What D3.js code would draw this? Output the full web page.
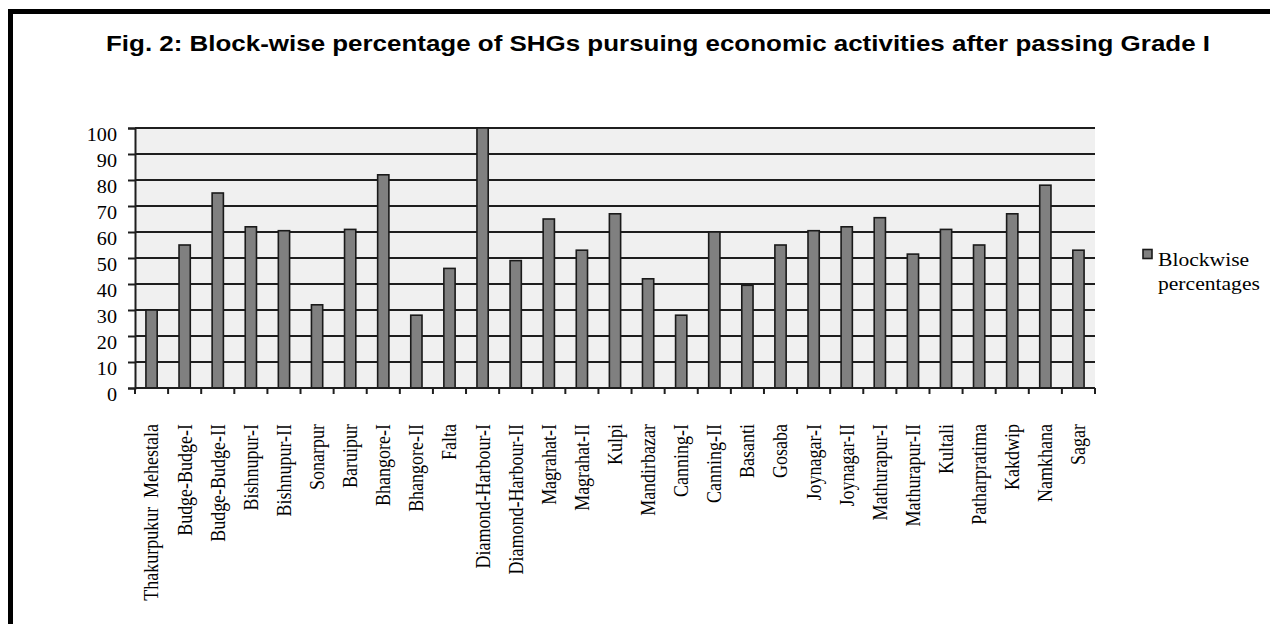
<!DOCTYPE html>
<html>
<head>
<meta charset="utf-8">
<script src="https://cdn.jsdelivr.net/npm/d3@7"></script>
<style>
  html, body { margin: 0; padding: 0; background: #fff; }
  svg { display: block; }
</style>
</head>
<body>
<svg id="chart" width="1270" height="624"></svg>
<script>
const categories = [
  "Thakurpukur  Mehestala", "Budge-Budge-I", "Budge-Budge-II", "Bishnupur-I", "Bishnupur-II",
  "Sonarpur", "Baruipur", "Bhangore-I", "Bhangore-II", "Falta",
  "Diamond-Harbour-I", "Diamond-Harbour-II", "Magrahat-I", "Magrahat-II", "Kulpi",
  "Mandirbazar", "Canning-I", "Canning-II", "Basanti", "Gosaba",
  "Joynagar-I", "Joynagar-II", "Mathurapur-I", "Mathurapur-II", "Kultali",
  "Patharpratima", "Kakdwip", "Namkhana", "Sagar"
];
const values = [
  30, 55, 75, 62, 60.5,
  32, 61, 82, 28, 46,
  100, 49, 65, 53, 67,
  42, 28, 60, 39.5, 55,
  60.5, 62, 65.5, 51.5, 61,
  55, 67, 78, 53
];
const yTicks = [0, 10, 20, 30, 40, 50, 60, 70, 80, 90, 100];
const seriesName = ["Blockwise", "percentages"];
const titleText = "Fig. 2: Block-wise percentage of SHGs pursuing economic activities after passing Grade I";

const svg = d3.select("#chart");
const L = 135, R = 1095, T = 128, B = 388;
const serif = "'Liberation Serif', 'Times New Roman', serif";

// outer frame (top and left edges)
svg.append("path")
  .attr("d", `M10.5,1000 L10.5,11.5 L1275,11.5`)
  .attr("fill", "none").attr("stroke", "#000").attr("stroke-width", 5);

// title
svg.append("text")
  .attr("x", 106).attr("y", 51)
  .attr("font-family", "'Liberation Sans', Arial, sans-serif")
  .attr("font-weight", "bold").attr("font-size", 22)
  .attr("textLength", 1104).attr("lengthAdjust", "spacingAndGlyphs")
  .attr("fill", "#000")
  .text(titleText);

const y = d3.scaleLinear().domain([0, 100]).range([B, T]);
const xCell = d3.scaleBand().domain(categories).range([L, R]).padding(0);
const xBar = d3.scaleBand().domain(categories).range([L, R]).paddingInner(0.66).paddingOuter(0.33);

// plot background
svg.append("rect").attr("x", L).attr("y", T).attr("width", R - L).attr("height", B - T)
  .attr("fill", "#f0f0f0");

// gridlines
svg.append("g").selectAll("line").data(yTicks.filter(d => d > 0)).join("line")
  .attr("x1", L).attr("x2", R).attr("y1", d => y(d)).attr("y2", d => y(d))
  .attr("stroke", "#1e1e1e").attr("stroke-width", 2);

// bars
svg.append("g").selectAll("rect").data(values).join("rect")
  .attr("x", (d, i) => xBar(categories[i]))
  .attr("y", d => y(d))
  .attr("width", xBar.bandwidth())
  .attr("height", d => B - y(d))
  .attr("fill", "#808080")
  .attr("stroke", "#1a1a1a").attr("stroke-width", 1.6);

// y axis
const yAxis = svg.append("g").attr("transform", `translate(${L},0)`)
  .call(d3.axisLeft(y).tickValues(yTicks).tickSize(7).tickPadding(11));
yAxis.select(".domain").attr("stroke", "#1e1e1e").attr("stroke-width", 2);
yAxis.selectAll(".tick line").attr("stroke", "#1e1e1e").attr("stroke-width", 2);
yAxis.selectAll(".tick text").attr("font-family", serif).attr("font-size", 18)
  .attr("fill", "#000").attr("dy", "0.72em")
  .attr("x", 0).attr("transform", "translate(-18,0) scale(1.12,1)");

// x axis line and ticks at category boundaries
svg.append("line").attr("x1", L).attr("x2", R).attr("y1", B).attr("y2", B)
  .attr("stroke", "#1e1e1e").attr("stroke-width", 2);
const bounds = categories.map(c => xCell(c)).concat([R]);
svg.append("g").selectAll("line").data(bounds).join("line")
  .attr("x1", d => d).attr("x2", d => d).attr("y1", B).attr("y2", B + 6)
  .attr("stroke", "#1e1e1e").attr("stroke-width", 2);

// x labels
svg.append("g").selectAll("text").data(categories).join("text")
  .attr("transform", d => `translate(${xCell(d) + xCell.bandwidth() / 2},424) rotate(-90) scale(1,1.15)`)
  .attr("text-anchor", "end")
  .attr("dominant-baseline", "central")
  .attr("font-family", serif).attr("font-size", 18).attr("fill", "#000")
  .style("white-space", "pre")
  .text(d => d);

// legend
const lg = svg.append("g");
lg.append("rect").attr("x", 1143).attr("y", 249.5).attr("width", 9).attr("height", 9)
  .attr("fill", "#808080").attr("stroke", "#1a1a1a").attr("stroke-width", 1.6);
lg.selectAll("text").data(seriesName).join("text")
  .attr("transform", (d, i) => `translate(1158,${266 + i * 24}) scale(1.2,1.05)`)
  .attr("font-family", serif).attr("font-size", 18).attr("fill", "#000")
  .text(d => d);
</script>
</body>
</html>
